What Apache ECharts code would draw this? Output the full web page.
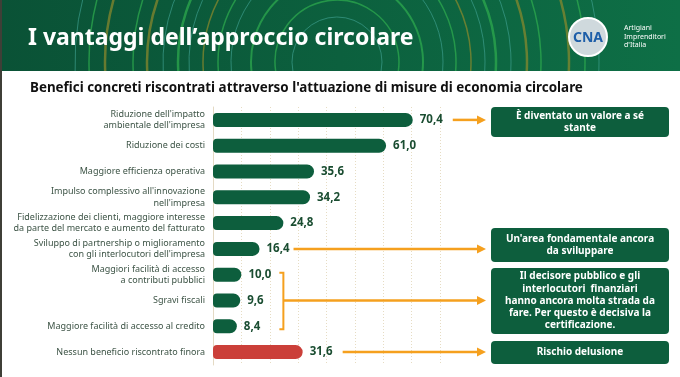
<!DOCTYPE html>
<html>
<head>
<meta charset="utf-8">
<script src="https://cdn.jsdelivr.net/npm/echarts@6/dist/echarts.min.js"></script>
<style>
  html, body { margin: 0; padding: 0; background: #fff; }
  #chart { width: 680px; height: 377px; }
</style>
</head>
<body>
<div id="chart"></div>
<script>
// categorie (dall'alto verso il basso) e percentuali
const categories = [
  "Riduzione dell'impatto\nambientale dell'impresa",
  'Riduzione dei costi',
  'Maggiore efficienza operativa',
  "Impulso complessivo all'innovazione\nnell'impresa",
  'Fidelizzazione dei clienti, maggiore interesse\nda parte del mercato e aumento del fatturato',
  "Sviluppo di partnership o miglioramento\ncon gli interlocutori dell'impresa",
  'Maggiori facilità di accesso\na contributi pubblici',
  'Sgravi fiscali',
  'Maggiore facilità di accesso al credito',
  'Nessun beneficio riscontrato finora'
];
const values = [70.4, 61.0, 35.6, 34.2, 24.8, 16.4, 10.0, 9.6, 8.4, 31.6];

const title = "I vantaggi dell\u2019approccio circolare";
const subtitle = "Benefici concreti riscontrati attraverso l'attuazione di misure di economia circolare";
const logoLines = ['Artigiani', 'Imprenditori', "d'Italia"];

// note a destra
const notes = [
  'È diventato un valore a sé\nstante',
  "Un'area fondamentale ancora\nda sviluppare",
  'Il decisore pubblico e gli\ninterlocutori  finanziari\nhanno ancora molta strada da\nfare. Per questo è decisiva la\ncertificazione.',
  'Rischio delusione'
];

const GREEN = '#0d5e3d';
const RED = '#cb3f39';
const ORANGE = '#f5a01e';
const FONT = '"Noto Sans", sans-serif';

const myChart = echarts.init(document.getElementById('chart'));

myChart.setOption({
  animation: false,
  backgroundColor: '#ffffff',
  grid: { left: 213, right: 240, top: 107, bottom: 12 },
  xAxis: {
    type: 'value',
    min: 0,
    max: 80,
    interval: 10,
    axisLabel: { show: false },
    axisLine: { show: false },
    axisTick: { show: false },
    splitLine: { lineStyle: { color: '#e6dcc3', type: [1, 2] } }
  },
  yAxis: {
    type: 'category',
    inverse: true,
    data: categories,
    axisTick: { show: false },
    axisLine: { lineStyle: { color: '#e4dac4', width: 1 } },
    axisLabel: {
      margin: 8,
      color: '#3d5446',
      fontFamily: FONT,
      fontSize: 9,
      lineHeight: 11.5,
      align: 'right'
    }
  },
  series: [{
    type: 'bar',
    data: values,
    barWidth: 14,
    itemStyle: {
      borderRadius: [4, 7, 7, 4],
      color: p => (p.dataIndex === values.length - 1 ? RED : GREEN)
    },
    label: {
      show: true,
      position: 'right',
      distance: 7,
      color: '#1a4d31',
      fontFamily: FONT,
      fontWeight: 'bold',
      fontSize: 11.5,
      formatter: p => p.value.toFixed(1).replace('.', ',')
    }
  }]
});

// posizioni in pixel per frecce e riquadri
const yOf = i => myChart.convertToPixel({ yAxisIndex: 0 }, i);
const xOf = v => myChart.convertToPixel({ xAxisIndex: 0 }, v);

const g = [];

// intestazione
g.push({
  type: 'rect', shape: { x: 0, y: 0, width: 680, height: 71 },
  style: {
    fill: new echarts.graphic.LinearGradient(0, 0, 1, 0, [
      { offset: 0, color: '#0a5236' },
      { offset: 0.5, color: '#0c603e' },
      { offset: 1, color: '#0e6f46' }
    ])
  }
});
const rings = [
  [45, '#3c9c8c', 1], [62, '#2fae4e', 1.5], [86, '#2fae4e', 2],
  [106, '#3c9c8c', 1], [119, '#2fae4e', 1.5], [134, '#8f8a2c', 1.5], [148, '#3c9c8c', 1],
  [159, '#2fae4e', 2.5], [174, '#3c9c8c', 1], [190, '#8f8a2c', 2.5], [204, '#2fae4e', 1.5],
  [232, '#8f8a2c', 2.5], [248, '#2fae4e', 1.5], [262, '#3c9c8c', 1]
];
const cx = 337, cy = 62, bottomY = 71;
rings.forEach(([r, c, w]) => {
  const a = Math.asin(Math.min(1, (bottomY - cy) / r));
  g.push({
    type: 'arc',
    shape: { cx: cx, cy: cy, r: r, startAngle: Math.PI - a, endAngle: 2 * Math.PI + a, clockwise: true },
    style: { stroke: c, lineWidth: w, fill: null, opacity: 0.7 }
  });
});
g.push({
  type: 'text', x: 28, y: 38,
  style: { text: title, fill: '#ffffff', font: 'bold 23px ' + FONT, textVerticalAlign: 'middle' }
});
// logo
g.push({
  type: 'circle', shape: { cx: 588, cy: 37, r: 19 },
  style: { fill: '#cfd9dd', stroke: '#ffffff', lineWidth: 2 }
});
g.push({
  type: 'text', x: 588, y: 38,
  style: { text: 'CNA', fill: '#1d5ea8', font: 'bold 14px ' + FONT, textAlign: 'center', textVerticalAlign: 'middle' }
});
logoLines.forEach((t, i) => {
  g.push({
    type: 'text', x: 624, y: 28 + i * 8.5,
    style: { text: t, fill: '#ffffff', font: '7px ' + FONT, textVerticalAlign: 'middle' }
  });
});
// bordo sinistro
g.push({ type: 'rect', shape: { x: 0, y: 0, width: 2, height: 377 }, style: { fill: '#3f3f37' } });

// sottotitolo
g.push({
  type: 'text', x: 30, y: 88,
  style: { text: subtitle, fill: '#111111', font: 'bold 13.4px ' + FONT, textVerticalAlign: 'middle' }
});

// frecce
function arrow(x1, y) {
  g.push({ type: 'line', shape: { x1: x1, y1: y, x2: 478, y2: y }, style: { stroke: ORANGE, lineWidth: 2.5 } });
  g.push({ type: 'polygon', shape: { points: [[486, y], [477, y - 4.5], [477, y + 4.5]] }, style: { fill: ORANGE } });
}
arrow(xOf(values[0]) + 40, yOf(0));
arrow(xOf(values[5]) + 34, yOf(5));
const bx = xOf(values[6]) + 42;
g.push({
  type: 'polyline',
  shape: { points: [[bx - 4, yOf(6) - 2], [bx, yOf(6) - 2], [bx, yOf(8) + 3], [bx - 4, yOf(8) + 3]] },
  style: { stroke: ORANGE, lineWidth: 2, fill: null }
});
arrow(bx, yOf(7));
arrow(xOf(values[9]) + 40, yOf(9));

// riquadri
const boxes = [
  { y: 107, h: 30 },
  { y: 228, h: 34 },
  { y: 268, h: 66 },
  { y: 341, h: 23 }
];
boxes.forEach((b, i) => {
  g.push({
    type: 'rect', shape: { x: 491, y: b.y, width: 178, height: b.h, r: 4 },
    style: { fill: GREEN }
  });
  g.push({
    type: 'text', x: 580, y: b.y + b.h / 2,
    style: {
      text: notes[i], fill: '#ffffff', font: 'bold 10px ' + FONT,
      lineHeight: 12.2, textAlign: 'center', textVerticalAlign: 'middle'
    }
  });
});

myChart.setOption({ graphic: g });
</script>
</body>
</html>
